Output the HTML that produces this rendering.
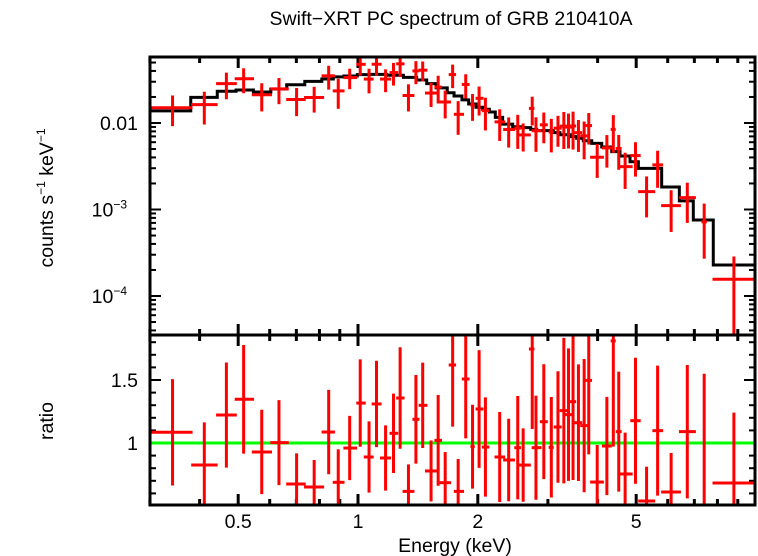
<!DOCTYPE html>
<html><head><meta charset="utf-8"><style>
body{margin:0;background:#fff;}
svg{display:block;font-family:"Liberation Sans",sans-serif;}
</style></head><body>
<svg id="chart" width="758" height="556" viewBox="0 0 758 556" xmlns="http://www.w3.org/2000/svg">
<rect x="0" y="0" width="758" height="556" fill="#fff"/>
<text x="451" y="25" font-size="19.5" text-anchor="middle">Swift−XRT PC spectrum of GRB 210410A</text>
<text transform="translate(53,198) rotate(-90)" font-size="19.5" text-anchor="middle">counts s<tspan font-size="12" dy="-8">−1</tspan><tspan dy="8"> keV</tspan><tspan font-size="12" dy="-8">−1</tspan></text>
<text transform="translate(53,421) rotate(-90)" font-size="19.5" text-anchor="middle">ratio</text>
<text x="455" y="552" font-size="19.5" text-anchor="middle">Energy (keV)</text>
<g id="ticks"></g>
<g id="model"></g>
<g id="data"></g>
<g id="ratio"></g>
<rect x="150" y="57" width="605" height="278" fill="none" stroke="#000" stroke-width="3"/>
<rect x="150" y="335" width="605" height="170" fill="none" stroke="#000" stroke-width="3"/>
</svg>
<script>
const eLo=[0.300,0.381,0.440,0.490,0.541,0.602,0.660,0.732,0.810,0.864,0.919,0.990,1.034,1.082,1.136,1.200,1.247,1.294,1.370,1.420,1.473,1.556,1.603,1.690,1.741,1.823,1.916,1.974,2.048,2.203,2.316,2.470,2.509,2.688,2.731,2.864,3.013,3.103,3.212,3.308,3.408,3.494,3.617,3.725,3.830,4.101,4.313,4.442,4.493,4.832,5.058,5.491,5.776,6.403,7.292,7.775];
const eHi=[0.384,0.444,0.496,0.548,0.608,0.670,0.739,0.822,0.875,0.925,0.995,1.046,1.095,1.146,1.211,1.262,1.309,1.386,1.427,1.494,1.589,1.626,1.713,1.764,1.847,1.907,1.965,2.067,2.139,2.343,2.480,2.567,2.718,2.775,2.891,2.999,3.103,3.249,3.376,3.446,3.533,3.659,3.785,3.873,4.148,4.343,4.442,4.596,4.899,5.131,5.580,5.843,6.477,7.063,7.527,10.0];
const eMid=[0.342,0.411,0.467,0.516,0.573,0.633,0.701,0.776,0.844,0.892,0.953,1.013,1.066,1.113,1.173,1.228,1.276,1.339,1.398,1.454,1.526,1.590,1.656,1.729,1.785,1.865,1.940,2.015,2.090,2.270,2.391,2.520,2.600,2.740,2.800,2.930,3.060,3.180,3.290,3.380,3.470,3.580,3.700,3.800,3.990,4.220,4.380,4.520,4.690,4.980,5.310,5.660,6.120,6.720,7.410,8.800];
const flux=[0.0150,0.0163,0.0285,0.0325,0.0212,0.0248,0.0187,0.0197,0.0351,0.0235,0.0335,0.0477,0.0322,0.0478,0.0322,0.0383,0.0483,0.0208,0.0400,0.0408,0.0222,0.0260,0.0175,0.0363,0.0126,0.0279,0.0161,0.0193,0.0139,0.0103,0.0084,0.00872,0.00728,0.01475,0.00814,0.00953,0.00787,0.00871,0.0092,0.00897,0.00923,0.00773,0.0071,0.00934,0.00402,0.00515,0.00843,0.00508,0.00313,0.0042,0.00161,0.00328,0.00111,0.00137,0.00072,0.000156];
const fluxErr=[0.0058,0.0067,0.0097,0.0104,0.0076,0.0083,0.0067,0.0065,0.0108,0.0089,0.0089,0.0126,0.0102,0.0125,0.0095,0.0112,0.0143,0.0072,0.0119,0.0106,0.0069,0.0092,0.0062,0.0110,0.0053,0.0087,0.0055,0.0071,0.0057,0.0041,0.0032,0.0037,0.0026,0.0054,0.0035,0.0037,0.0033,0.0034,0.0042,0.0039,0.0043,0.0031,0.0033,0.0037,0.0017,0.0021,0.0039,0.0022,0.0014,0.0018,0.0008,0.0015,0.00056,0.00067,0.00045,0.00013];
const ratio=[1.085,0.825,1.222,1.347,0.929,1.003,0.675,0.651,1.087,0.688,0.960,1.317,0.889,1.310,0.881,1.077,1.357,0.616,1.188,1.299,0.778,1.021,0.685,1.619,0.616,1.508,0.971,1.270,0.968,0.889,0.865,0.963,0.825,1.746,0.963,1.169,0.966,1.127,1.257,1.225,1.328,1.161,1.138,1.497,0.690,0.976,1.810,1.090,0.754,1.177,0.540,1.098,0.611,1.090,0.50,0.683];
const ratioErr=[0.422,0.339,0.417,0.431,0.335,0.337,0.243,0.214,0.335,0.262,0.255,0.347,0.283,0.343,0.259,0.315,0.403,0.214,0.352,0.339,0.242,0.360,0.243,0.489,0.257,0.471,0.333,0.467,0.394,0.357,0.327,0.41,0.291,0.635,0.413,0.456,0.399,0.442,0.577,0.526,0.622,0.463,0.529,0.587,0.294,0.390,0.839,0.476,0.328,0.5,0.272,0.516,0.310,0.529,1.05,0.558];
const modelEdges=[0.30,0.380,0.443,0.494,0.546,0.604,0.662,0.735,0.811,0.867,0.922,0.996,1.072,1.181,1.30,1.404,1.488,1.571,1.676,1.743,1.825,1.897,1.979,2.057,2.138,2.213,2.309,2.447,2.593,2.716,2.812,3.096,3.217,3.409,3.543,3.681,3.866,4.096,4.340,4.553,4.825,5.063,5.794,6.418,6.958,7.81,10.0];
const modelVals=[0.0138,0.0198,0.0233,0.0241,0.0228,0.0247,0.0277,0.0303,0.0323,0.0341,0.0349,0.0362,0.0365,0.0356,0.0337,0.0314,0.0285,0.0255,0.0224,0.0205,0.0185,0.0166,0.0152,0.0144,0.0134,0.0116,0.0097,0.00906,0.00883,0.00845,0.00815,0.00773,0.00732,0.00695,0.00666,0.00624,0.00582,0.00528,0.00466,0.00415,0.00357,0.00299,0.00182,0.00126,0.000757,0.000228];
const xTickMajor=[0.5,1,2,5];
const xTickLabels=["0.5","1","2","5"];
const xTickMinor=[0.3,0.4,0.6,0.7,0.8,0.9,3,4,6,7,8,9];
const ratioTickMajor=[1,1.5];
const ratioTickLabels=["1","1.5"];

const NS="http://www.w3.org/2000/svg";
const L=150,R=755,T1=57,B1=335,T2=335,B2=505;
const FS=19.5;
const xs=e=>358+398*Math.log10(e);
const ysTop=v=>123-86.5*(Math.log10(v)+2);
const ysRat=r=>443-126*(r-1);
const clampTop=y=>Math.max(T1,Math.min(B1,y));
const clampRat=y=>Math.max(T2,Math.min(B2,y));
function mk(tag,attrs,parent){const el=document.createElementNS(NS,tag);for(const k in attrs)el.setAttribute(k,attrs[k]);parent.appendChild(el);return el;}
const gT=document.getElementById('ticks'),gM=document.getElementById('model'),gD=document.getElementById('data'),gR=document.getElementById('ratio');

function xtick(e,len,name){
  const x=xs(e);
  [[B1,-1],[T1,1],[B2,-1],[T2,1]].forEach(([y0,d])=>{
    const t=mk('line',{x1:x,x2:x,y1:y0,y2:y0+d*len,stroke:'#000','stroke-width':3},gT);
    
    
  });
}
xTickMajor.forEach((e,i)=>{
  xtick(e,11,'x-major-tick');
  const t=mk('text',{x:xs(e),y:528,'font-size':FS,'text-anchor':'middle'},gT);
  t.textContent=xTickLabels[i];
  
  
});
xTickMinor.forEach(e=>xtick(e,6,'x-minor-tick'));

function ytick(y,len,name){
  [[L,1],[R,-1]].forEach(([x0,d])=>{
    const t=mk('line',{x1:x0,x2:x0+d*len,y1:y,y2:y,stroke:'#000','stroke-width':2},gT);
    
    
  });
}
for(let p=-5;p<=-1;p++){for(let m=1;m<=9;m++){const v=m*Math.pow(10,p);const y=ysTop(v);if(y<T1||y>B1)continue;ytick(y,m===1?11:6,m===1?'y-major-tick':'y-minor-tick');}}
[[0.01,'0.01',null],[1e-3,'10','−3'],[1e-4,'10','−4']].forEach(([v,b,s])=>{
  const t=mk('text',{x:s?127:138,y:ysTop(v)+7,'font-size':FS,'text-anchor':'end'},gT);
  t.textContent=b;
  if(s){const sp=mk('tspan',{'font-size':12,dy:-8},t);sp.textContent=s;}
  
  
});
for(let k=5;k<=18;k++){const r=k/10;const y=ysRat(r);if(y<T2||y>B2)continue;const maj=(k%5===0);ytick(y,maj?11:6,maj?'ratio-major-tick':'ratio-minor-tick');}
ratioTickMajor.forEach((r,i)=>{
  const t=mk('text',{x:138,y:ysRat(r)+7,'font-size':FS,'text-anchor':'end'},gT);
  t.textContent=ratioTickLabels[i];
  
  
});

let d='';
modelVals.forEach((v,i)=>{const y=ysTop(v);const x0=xs(modelEdges[i]),x1=xs(modelEdges[i+1]);d+=(i===0?'M':'L')+x0+','+y+'L'+x1+','+y;});
const mp=mk('path',{d:d,fill:'none',stroke:'#000','stroke-width':3},gM);



const ul=mk('line',{x1:L,x2:R,y1:ysRat(1),y2:ysRat(1),stroke:'#00ff00','stroke-width':3},gR);



flux.forEach((f,i)=>{
  const g=mk('g',{},gD);
  
  
  const y=ysTop(f),lo=f-fluxErr[i],hi=f+fluxErr[i];
  const yHi=clampTop(ysTop(hi)),yLo=lo>0?clampTop(ysTop(lo)):B1;
  const x=xs(eMid[i]);
  mk('line',{x1:x,x2:x,y1:yHi,y2:yLo,stroke:'#ff0000','stroke-width':3},g);
  if(y>=T1&&y<=B1)mk('line',{x1:xs(eLo[i]),x2:xs(eHi[i]),y1:y,y2:y,stroke:'#ff0000','stroke-width':3},g);
});
ratio.forEach((r,i)=>{
  const g=mk('g',{},gR);
  
  
  const y=ysRat(r);
  const x=xs(eMid[i]);
  mk('line',{x1:x,x2:x,y1:clampRat(ysRat(r+ratioErr[i])),y2:clampRat(ysRat(r-ratioErr[i])),stroke:'#ff0000','stroke-width':3},g);
  if(y>=T2&&y<=B2)mk('line',{x1:xs(eLo[i]),x2:xs(eHi[i]),y1:y,y2:y,stroke:'#ff0000','stroke-width':3},g);
});
</script>
</body></html>
